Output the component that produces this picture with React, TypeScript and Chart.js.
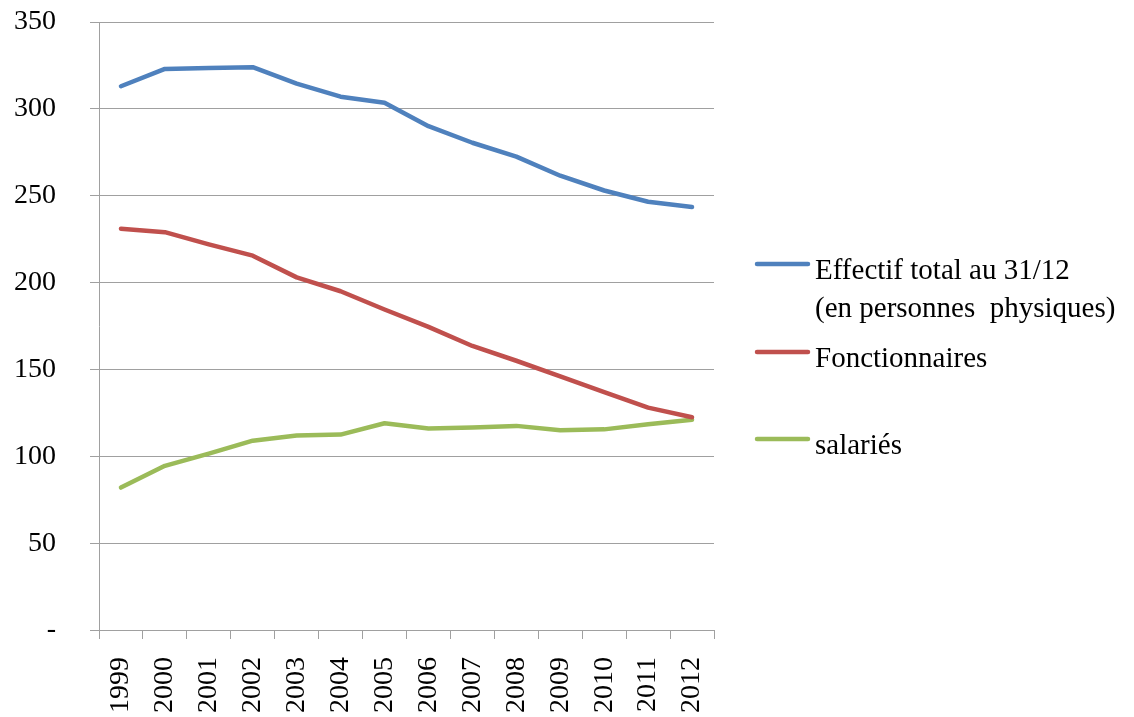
import React, { useEffect, useRef } from "react";
import { Chart, registerables } from "chart.js";

Chart.register(...registerables);

const years = ["1999", "2000", "2001", "2002", "2003", "2004", "2005", "2006", "2007", "2008", "2009", "2010", "2011", "2012"];
const effectifTotal = [313, 323, 323.5, 324, 314.5, 307, 303.5, 290, 280.5, 272.5, 261.5, 253, 246.5, 243.5];
const fonctionnaires = [231, 229, 222, 215.5, 203, 195, 184.5, 174.5, 163.5, 155, 146, 137, 128, 122.5];
const salaries = [82, 94.5, 101.5, 109, 112, 112.5, 119, 116, 116.5, 117.5, 115, 115.5, 118.5, 121];
const yTicks = [0, 50, 100, 150, 200, 250, 300, 350];
const legendLabels: string[][] = [["Effectif total au 31/12", "(en personnes  physiques)"], ["Fonctionnaires"], ["salariés"]];

const colors = ["#4F81BD", "#C0504D", "#9BBB59"];
const FONT = "'Liberation Serif', 'Times New Roman', serif";

const legendPlugin = {
  id: "customLegend",
  afterDraw(chart: any) {
    const ctx = chart.ctx;
    const right = chart.chartArea.right;
    const rows = [264, 352, 439];
    ctx.save();
    ctx.font = `29px ${FONT}`;
    ctx.fillStyle = "#000";
    ctx.textAlign = "left";
    ctx.textBaseline = "alphabetic";
    legendLabels.forEach((lines, i) => {
      const y = rows[i];
      ctx.strokeStyle = colors[i];
      ctx.lineWidth = 4.5;
      ctx.lineCap = "round";
      ctx.beginPath();
      ctx.moveTo(right + 43, y);
      ctx.lineTo(right + 94, y);
      ctx.stroke();
      lines.forEach((t, j) => {
        ctx.fillText(t, right + 101, y + 15 + j * 38);
      });
    });
    ctx.restore();
  },
};

export default function App() {
  const ref = useRef<HTMLCanvasElement>(null);
  useEffect(() => {
    document.body.style.margin = "0";
    const chart = new Chart(ref.current!, {
      type: "line",
      data: {
        labels: years,
        datasets: [
          { label: legendLabels[0].join(" "), data: effectifTotal, borderColor: colors[0], backgroundColor: colors[0] },
          { label: legendLabels[1][0], data: fonctionnaires, borderColor: colors[1], backgroundColor: colors[1] },
          { label: legendLabels[2][0], data: salaries, borderColor: colors[2], backgroundColor: colors[2] },
        ],
      },
      options: {
        animation: false,
        responsive: false,
        devicePixelRatio: 1,
        elements: {
          line: { borderWidth: 4.5, tension: 0, borderCapStyle: "round", borderJoinStyle: "round" },
          point: { radius: 0 },
        },
        layout: { padding: { top: 22, right: 420, left: 0, bottom: 0 } },
        plugins: { legend: { display: false }, tooltip: { enabled: false } },
        scales: {
          x: {
            offset: true,
            grid: { offset: true, drawOnChartArea: false, drawTicks: true, tickLength: 9, color: "#a0a0a0" },
            border: { color: "#a0a0a0" },
            ticks: { minRotation: 90, maxRotation: 90, padding: 18, color: "#000", font: { family: FONT, size: 28 } },
            afterFit: (s: any) => { s.height = 87; s.paddingLeft = 0; s.paddingRight = 0; s.paddingTop = 0; s.paddingBottom = 0; },
          },
          y: {
            min: 0,
            max: 350,
            afterBuildTicks: (s: any) => { s.ticks = yTicks.map((v) => ({ value: v })); },
            grid: { color: "#a0a0a0", tickLength: 9 },
            border: { color: "#a0a0a0" },
            ticks: {
              padding: 34,
              color: "#000",
              font: { family: FONT, size: 28 },
              callback: (v: any) => (v === 0 ? "-" : String(v)),
            },
            afterFit: (s: any) => { s.width = 99; s.paddingTop = 0; s.paddingBottom = 0; s.paddingLeft = 0; s.paddingRight = 0; },
          },
        },
      },
      plugins: [legendPlugin],
    });
    return () => chart.destroy();
  }, []);
  return (
    <div style={{ width: 1134, height: 717 }}>
      <canvas ref={ref} width={1134} height={717} style={{ display: "block" }} />
    </div>
  );
}
